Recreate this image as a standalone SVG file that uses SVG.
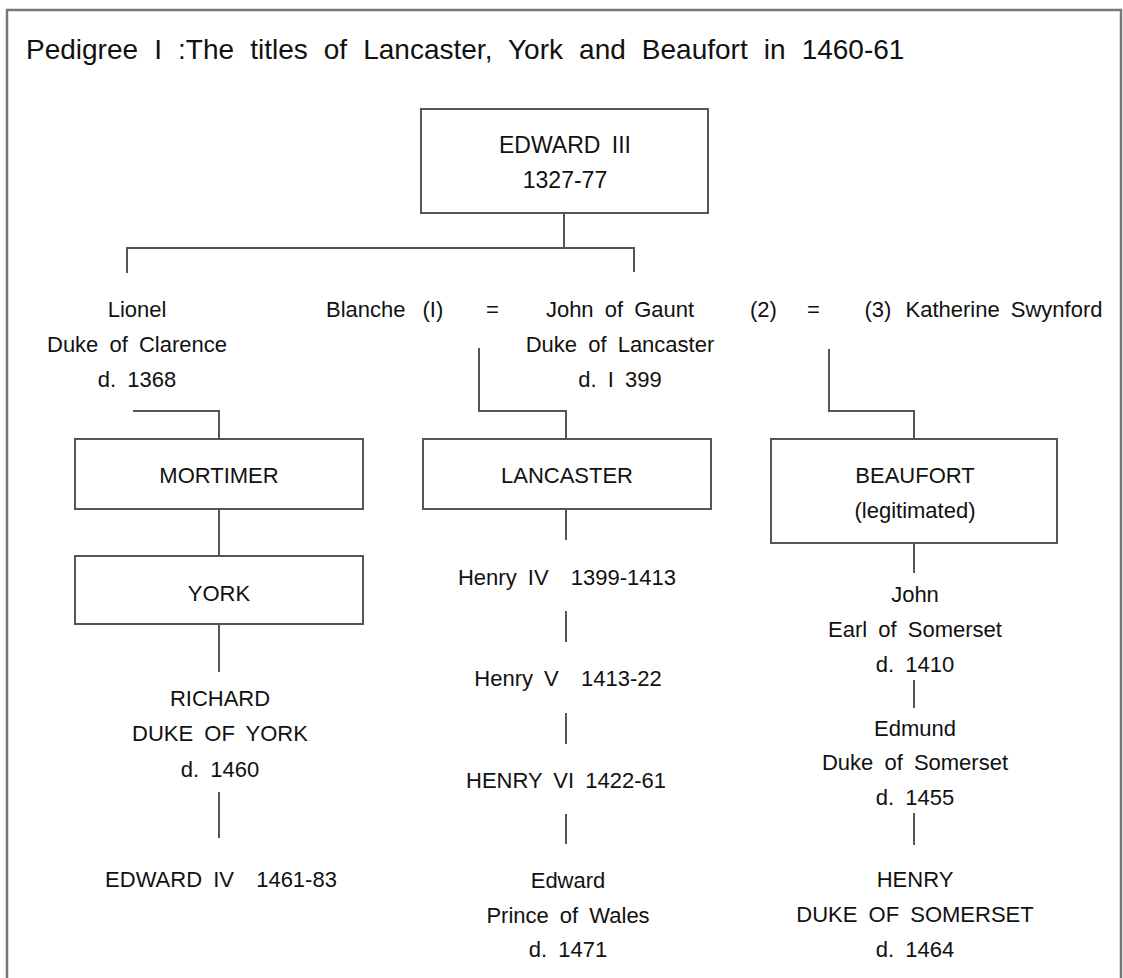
<svg xmlns="http://www.w3.org/2000/svg" width="1123" height="978" viewBox="0 0 1123 978">
<style>
text{font-family:"Liberation Sans",Arial,sans-serif;font-size:22px;fill:#111;word-spacing:5px}
.c{text-anchor:middle}
.box{fill:none;stroke:#555;stroke-width:2}
.ln{fill:none;stroke:#555;stroke-width:2}
.frame{fill:none;stroke:#777;stroke-width:2.5}
</style>
<rect width="1123" height="978" fill="#fff"/>
<path class="frame" d="M7,990 V10 H1121 V990"/>
<text x="26" y="58.5" style="font-size:28px;word-spacing:8.3px">Pedigree I :The titles of Lancaster, York and Beaufort in 1460-61</text>

<g id="connectors">
<path class="ln" d="M564,213 V248"/>
<path class="ln" d="M127,273 V248 H634 V272"/>
<path class="ln" d="M133,411 H219 V439"/>
<path class="ln" d="M479,348 V411 H566 V439"/>
<path class="ln" d="M829,349 V411 H914 V439"/>
<path class="ln" d="M219,509 V556"/>
<path class="ln" d="M219,624 V672"/>
<path class="ln" d="M219,792 V838"/>
<path class="ln" d="M566,509 V540"/>
<path class="ln" d="M566,611 V642"/>
<path class="ln" d="M566,713 V744"/>
<path class="ln" d="M566,814 V844"/>
<path class="ln" d="M914,543 V573"/>
<path class="ln" d="M914,680 V708"/>
<path class="ln" d="M914,813 V845"/>
</g>

<g id="edward3">
<rect class="box" x="421" y="109" width="287" height="104"/>
<text class="c" x="565" y="153" style="font-size:23px">EDWARD III</text>
<text class="c" x="565" y="188" style="font-size:23px">1327-77</text>
</g>

<g id="lionel">
<text class="c" x="137" y="317">Lionel</text>
<text class="c" x="137" y="352">Duke of Clarence</text>
<text class="c" x="137" y="387">d. 1368</text>
</g>

<g id="marriage">
<text x="326" y="317">Blanche</text>
<text x="422.5" y="317">(I)</text>
<text x="486" y="317">=</text>
<text x="750" y="317">(2)</text>
<text x="807" y="317">=</text>
<text x="864.5" y="317">(3)</text>
</g>

<g id="gaunt">
<text class="c" x="620" y="317">John of Gaunt</text>
<text class="c" x="620" y="352">Duke of Lancaster</text>
<text class="c" x="620" y="387">d. I 399</text>
</g>

<g id="katherine">
<text x="905.5" y="317">Katherine Swynford</text>
</g>

<g id="mortimer">
<rect class="box" x="75" y="439" width="288" height="70"/>
<text class="c" x="219" y="482.5">MORTIMER</text>
</g>

<g id="lancaster">
<rect class="box" x="423" y="439" width="288" height="70"/>
<text class="c" x="567" y="482.5">LANCASTER</text>
</g>

<g id="beaufort">
<rect class="box" x="771" y="439" width="286" height="104"/>
<text class="c" x="915" y="482.5">BEAUFORT</text>
<text class="c" x="915" y="518">(legitimated)</text>
</g>

<g id="york">
<rect class="box" x="75" y="556" width="288" height="68"/>
<text class="c" x="219" y="600.5">YORK</text>
</g>

<g id="richard">
<text class="c" x="220" y="706">RICHARD</text>
<text class="c" x="220" y="741">DUKE OF YORK</text>
<text class="c" x="220" y="776.5">d. 1460</text>
</g>

<g id="edward4">
<text class="c" x="221" y="887">EDWARD IV &#160;1461-83</text>
</g>

<g id="henry4">
<text class="c" x="567" y="585">Henry IV &#160;1399-1413</text>
</g>

<g id="henry5">
<text class="c" x="568" y="686">Henry V &#160;1413-22</text>
</g>

<g id="henry6">
<text class="c" x="566" y="788">HENRY VI 1422-61</text>
</g>

<g id="edwardprince">
<text class="c" x="568" y="888">Edward</text>
<text class="c" x="568" y="923">Prince of Wales</text>
<text class="c" x="568" y="957">d. 1471</text>
</g>

<g id="john">
<text class="c" x="915" y="601.5">John</text>
<text class="c" x="915" y="636.5">Earl of Somerset</text>
<text class="c" x="915" y="671.5">d. 1410</text>
</g>

<g id="edmund">
<text class="c" x="915" y="735.5">Edmund</text>
<text class="c" x="915" y="770">Duke of Somerset</text>
<text class="c" x="915" y="805">d. 1455</text>
</g>

<g id="henry">
<text class="c" x="915" y="887">HENRY</text>
<text class="c" x="915" y="922">DUKE OF SOMERSET</text>
<text class="c" x="915" y="957">d. 1464</text>
</g>
</svg>
